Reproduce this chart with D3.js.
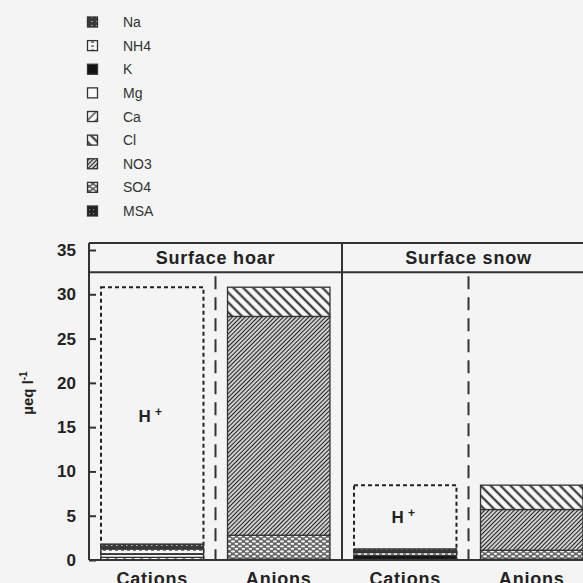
<!DOCTYPE html>
<html>
<head>
<meta charset="UTF-8" />
<style>
  body { margin: 0; background: #f4f4f4; }
  svg { display: block; font-family: "Liberation Sans", Arial, sans-serif; }
</style>
</head>
<body>
<div id="chart"></div>
<script src="https://cdn.jsdelivr.net/npm/d3@7/dist/d3.min.js"></script>
<script>
// data (µeq/l)
const panels = ["Surface hoar", "Surface snow"];
const groups = ["Cations", "Anions"];
const cationSpecies = ["Ca", "Mg", "K", "NH4", "Na"];      // stacked bottom -> top
const anionSpecies = ["MSA", "SO4", "NO3", "Cl"];          // stacked bottom -> top
const hoarCations = [0.3, 0.35, 0.05, 0.55, 0.55];
const snowCations = [0.05, 0.05, 0.4, 0.35, 0.4];
const hoarAnions = [0.1, 2.7, 24.7, 3.3];
const snowAnions = [0.1, 1.0, 4.6, 2.75];
const hPlus = [29.0, 7.2];                                  // hoar, snow
const legendKeys = ["Na", "NH4", "K", "Mg", "Ca", "Cl", "NO3", "SO4", "MSA"];
const yTicks = [0, 5, 10, 15, 20, 25, 30, 35];

const width = 583, height = 583;
const svg = d3.select("#chart").append("svg")
  .attr("width", width).attr("height", height);

svg.append("rect").attr("width", width).attr("height", height).attr("fill", "#f4f4f4");

// patterns for the species
const defs = svg.append("defs");
function hatch(id, size, angle, sw, bg) {
  const p = defs.append("pattern").attr("id", id)
    .attr("patternUnits", "userSpaceOnUse")
    .attr("width", size).attr("height", size)
    .attr("patternTransform", "rotate(" + angle + ")");
  p.append("rect").attr("width", size).attr("height", size).attr("fill", bg);
  p.append("line").attr("x1", size / 2).attr("x2", size / 2)
    .attr("y1", 0).attr("y2", size)
    .attr("stroke", "#222").attr("stroke-width", sw);
}
hatch("pCl", 7, -45, 2, "#f7f7f7");
hatch("pNO3", 3, 45, 1.3, "#eee");
hatch("pCa", 6, 45, 1.2, "#f7f7f7");

let p = defs.append("pattern").attr("id", "pSO4").attr("patternUnits", "userSpaceOnUse")
  .attr("width", 7).attr("height", 5);
p.append("rect").attr("width", 7).attr("height", 5).attr("fill", "#666");
p.append("ellipse").attr("cx", 2).attr("cy", 1.4).attr("rx", 2).attr("ry", 1.1).attr("fill", "#f4f4f4");
p.append("ellipse").attr("cx", 5.5).attr("cy", 3.8).attr("rx", 2).attr("ry", 1.1).attr("fill", "#f4f4f4");

p = defs.append("pattern").attr("id", "pMSA").attr("patternUnits", "userSpaceOnUse")
  .attr("width", 4).attr("height", 4);
p.append("rect").attr("width", 4).attr("height", 4).attr("fill", "#222");
p.append("rect").attr("x", 1).attr("y", 1).attr("width", 1.2).attr("height", 1.2).attr("fill", "#888");

p = defs.append("pattern").attr("id", "pNa").attr("patternUnits", "userSpaceOnUse")
  .attr("width", 5).attr("height", 4);
p.append("rect").attr("width", 5).attr("height", 4).attr("fill", "#3a3a3a");
p.append("rect").attr("x", 1).attr("y", 1).attr("width", 1.5).attr("height", 1).attr("fill", "#bbb");

p = defs.append("pattern").attr("id", "pNH4").attr("patternUnits", "userSpaceOnUse")
  .attr("width", 6).attr("height", 4);
p.append("rect").attr("width", 6).attr("height", 4).attr("fill", "#f7f7f7");
p.append("rect").attr("x", 1).attr("y", 1.5).attr("width", 3).attr("height", 1.2).attr("fill", "#444");

const fills = {
  Na: "url(#pNa)", NH4: "url(#pNH4)", K: "#111", Mg: "#fafafa", Ca: "url(#pCa)",
  Cl: "url(#pCl)", NO3: "url(#pNO3)", SO4: "url(#pSO4)", MSA: "url(#pMSA)"
};

// scales
const y = d3.scaleLinear().domain([0, 35]).range([560, 250]);
const barKeys = [];
panels.forEach(pn => groups.forEach(g => barKeys.push(pn + "|" + g)));
const x = d3.scaleBand().domain(barKeys).range([89, 595])
  .paddingInner(0.19).paddingOuter(0.095);

const frameTop = y(35.8), stripBottom = y(32.5);
const bw = x.bandwidth();

// stacked bars
const barData = [
  { key: barKeys[0], species: cationSpecies, values: hoarCations, h: hPlus[0] },
  { key: barKeys[1], species: anionSpecies, values: hoarAnions },
  { key: barKeys[2], species: cationSpecies, values: snowCations, h: hPlus[1] },
  { key: barKeys[3], species: anionSpecies, values: snowAnions }
];

barData.forEach(b => {
  let acc = 0;
  const segs = b.species.map((s, i) => {
    const seg = { s: s, y0: acc, y1: acc + b.values[i] };
    acc += b.values[i];
    return seg;
  });
  const g = svg.append("g");
  if (b.h !== undefined) {
    // H+ dotted box on top of the cation stack
    g.append("rect")
      .attr("x", x(b.key)).attr("width", bw)
      .attr("y", y(acc + b.h)).attr("height", y(0) - y(acc + b.h))
      .attr("fill", "none").attr("stroke", "#222")
      .attr("stroke-width", 2).attr("stroke-dasharray", "4,3");
    const t = g.append("text")
      .attr("x", x(b.key) + bw / 2 - 2).attr("y", y(acc + b.h / 2) + 6)
      .attr("text-anchor", "middle").attr("font-weight", "bold")
      .attr("font-size", 17).attr("fill", "#222");
    t.append("tspan").text("H");
    t.append("tspan").attr("dx", 4).attr("dy", -6).attr("font-size", 12).text("+");
  }
  g.selectAll("rect.seg").data(segs).enter().append("rect")
    .attr("class", "seg")
    .attr("x", x(b.key)).attr("width", bw)
    .attr("y", d => y(d.y1)).attr("height", d => y(d.y0) - y(d.y1))
    .attr("fill", d => fills[d.s])
    .attr("stroke", "#333").attr("stroke-width", 1.3);
});

// frame
const frame = svg.append("g").attr("stroke", "#333").attr("stroke-width", 2).attr("fill", "none");
const xLeft = x.range()[0], xRight = x.range()[1];
frame.append("line").attr("x1", xLeft).attr("x2", xLeft).attr("y1", frameTop).attr("y2", y(0));
frame.append("line").attr("x1", xLeft).attr("x2", xRight).attr("y1", frameTop).attr("y2", frameTop);
frame.append("line").attr("x1", xLeft).attr("x2", xRight).attr("y1", stripBottom).attr("y2", stripBottom);
frame.append("line").attr("x1", xLeft).attr("x2", xRight).attr("y1", y(0)).attr("y2", y(0));

// panel divider and dashed cation/anion separators
panels.forEach((pn, i) => {
  const c = x(pn + "|Cations"), a = x(pn + "|Anions");
  frame.append("line")
    .attr("x1", (c + bw + a) / 2).attr("x2", (c + bw + a) / 2)
    .attr("y1", stripBottom + 4).attr("y2", y(0))
    .attr("stroke-dasharray", "13,8");
  if (i > 0) {
    const prev = x(panels[i - 1] + "|Anions") + bw;
    frame.append("line").attr("x1", (prev + c) / 2).attr("x2", (prev + c) / 2)
      .attr("y1", frameTop).attr("y2", y(0));
  }
  svg.append("text")
    .attr("x", (c + a + bw) / 2).attr("y", (frameTop + stripBottom) / 2 + 6)
    .attr("text-anchor", "middle").attr("font-weight", "bold")
    .attr("font-size", 18).attr("letter-spacing", 0.8).attr("fill", "#222")
    .text(pn);
});

// y axis
const yAxis = svg.append("g").attr("transform", "translate(" + xLeft + ",0)")
  .call(d3.axisLeft(y).tickValues(yTicks).tickSizeInner(-7).tickSizeOuter(0).tickPadding(13));
yAxis.select(".domain").remove();
yAxis.selectAll(".tick line").attr("stroke", "#333").attr("stroke-width", 2);
yAxis.selectAll(".tick text").attr("font-size", 17).attr("font-weight", "bold")
  .attr("fill", "#222").attr("font-family", "Liberation Sans, Arial, sans-serif");

// y label
const yl = svg.append("text")
  .attr("transform", "translate(33," + 393 + ") rotate(-90)")
  .attr("text-anchor", "middle").attr("font-weight", "bold")
  .attr("font-size", 15).attr("fill", "#222");
yl.append("tspan").text("µeq l");
yl.append("tspan").attr("dy", -6).attr("font-size", 10).text("-1");

// x labels (cut by the bottom edge, as in the original)
svg.selectAll("text.xl").data(barKeys).enter().append("text")
  .attr("class", "xl")
  .attr("x", d => x(d) + bw / 2).attr("y", 585)
  .attr("text-anchor", "middle").attr("font-weight", "bold")
  .attr("font-size", 18).attr("letter-spacing", 0.8).attr("fill", "#222")
  .text(d => d.split("|")[1]);

// legend
const ly = d3.scalePoint().domain(legendKeys).range([22, 211]);
const lg = svg.append("g");
lg.selectAll("rect").data(legendKeys).enter().append("rect")
  .attr("x", 87.5).attr("y", d => ly(d) - 5).attr("width", 10).attr("height", 10)
  .attr("fill", d => fills[d]).attr("stroke", "#333").attr("stroke-width", 1.3);
lg.selectAll("text").data(legendKeys).enter().append("text")
  .attr("x", 123).attr("y", d => ly(d) + 5)
  .attr("font-size", 14).attr("fill", "#333")
  .text(d => d);
</script>
</body>
</html>
